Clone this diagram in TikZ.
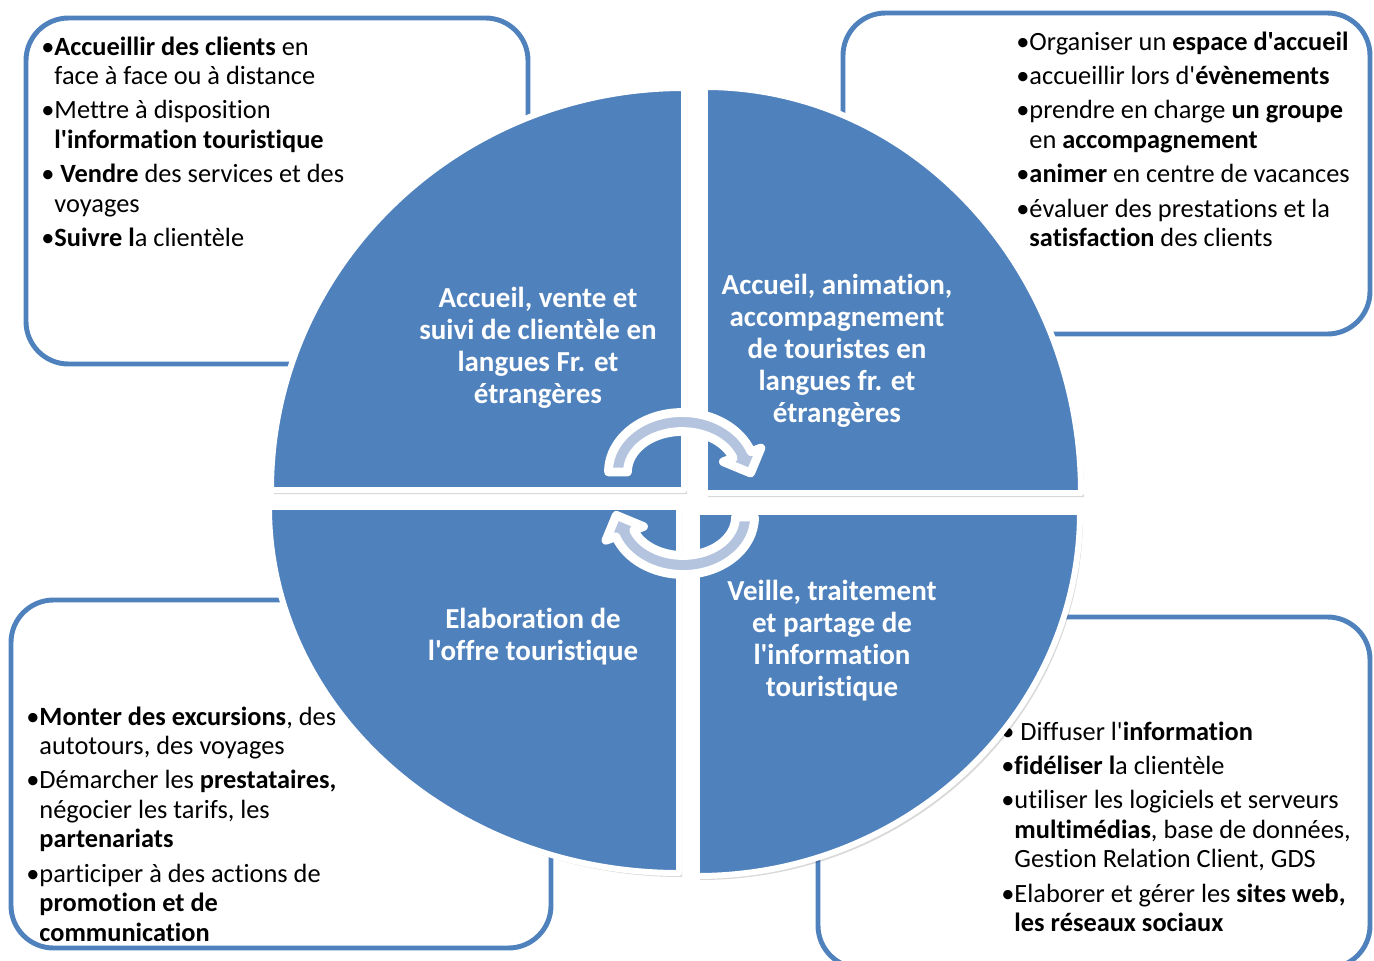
\documentclass[tikz,border=0pt]{standalone}
\usepackage{fontspec}
\setmainfont{Carlito}[Ligatures={TeXOff,NoCommon}]
\usetikzlibrary{positioning,arrows.meta,calc}
\definecolor{QuadBlue}{HTML}{4F81BD}
\definecolor{CycleBlue}{HTML}{B4C4DF}

\begin{document}
\begin{tikzpicture}[x=0.02cm,y=-0.02cm,
      box/.style={draw=QuadBlue,line width=2.8pt,fill=white,rounded corners=0.85cm},
      quad/.style={fill=QuadBlue,draw=white,line width=3.4pt,line join=round},
      quadshade/.style={fill=black,opacity=0.15},
      lbl/.style={text=white,align=center,font=\fontsize{16.5}{18.2}\selectfont\bfseries},
      txt/.style={anchor=base west,inner sep=0pt,font=\fontsize{15}{16.8}\selectfont},
      cyc/.style={fill=CycleBlue,draw=white,line width=5pt,line join=round}
    ]
    \useasboundingbox (0,0) rectangle (1374,961);
    % boxes
    \draw[box] (26,18) rectangle (528,364);
    \draw[box] (843,13) rectangle (1370,334);
    \draw[box] (11,600) rectangle (551,948);
    \draw[box] (818,617) rectangle (1370,968);
    \node[txt] (ta) at (41,55) {\begin{tabular}[t]{@{}l@{}l@{}}
      • & \textbf{Accueillir des clients} en\\
        & face à face ou à distance\\[2.8pt]
      • & Mettre à disposition\\
        & \textbf{l'information touristique}\\[2.8pt]
      • & \ \textbf{Vendre} des services et des\\
        & voyages\\[2.8pt]
      • & \textbf{Suivre l}a clientèle
    \end{tabular}};
    \node[txt] (tb) at (1016,50) {\begin{tabular}[t]{@{}l@{}l@{}}
      • & Organiser un \textbf{espace d'accueil}\\[2.8pt]
      • & accueillir lors d'\textbf{évènements}\\[2.8pt]
      • & prendre en charge \textbf{un groupe}\\
        & en \textbf{accompagnement}\\[2.8pt]
      • & \textbf{animer} en centre de vacances\\[2.8pt]
      • & évaluer des prestations et la\\
        & \textbf{satisfaction} des clients
    \end{tabular}};
    \node[txt] (tc) at (26,725) {\begin{tabular}[t]{@{}l@{}l@{}}
      • & \textbf{Monter des excursions}, des\\
        & autotours, des voyages\\[2.8pt]
      • & Démarcher les \textbf{prestataires,}\\
        & négocier les tarifs, les\\
        & \textbf{partenariats}\\[2.8pt]
      • & participer à des actions de\\
        & \textbf{promotion et de}\\
        & \textbf{communication}
    \end{tabular}};
    \node[txt] (td) at (1001,740) {\begin{tabular}[t]{@{}l@{}l@{}}
      • & \ Diffuser l'\textbf{information}\\[2.8pt]
      • & \textbf{fidéliser l}a clientèle\\[2.8pt]
      • & utiliser les logiciels et serveurs\\
        & \textbf{multimédias}, base de données,\\
        & Gestion Relation Client, GDS\\[2.8pt]
      • & Elaborer et gérer les \textbf{sites web,}\\
        & \textbf{les réseaux sociaux}
    \end{tabular}};
    % quadrants
    \foreach \cx/\cy/\rx/\ry/\a in {684/490/413/402/180, 705/493/376/406/270,
                                    697/512/383/364/0, 679/507/410/366/90}{
      \fill[quadshade] (\cx+3,\cy+4) -- ++(\a:{\rx} and {\ry})
        arc[start angle=\a, delta angle=90, x radius=\rx, y radius=\ry] -- cycle;
      \draw[quad] (\cx,\cy) -- ++(\a:{\rx} and {\ry})
        arc[start angle=\a, delta angle=90, x radius=\rx, y radius=\ry] -- cycle;
    }
    \node[lbl] (qa) at (538,348) {Accueil, vente et\\suivi de clientèle en\\langues Fr. et\\étrangères};
    \node[lbl] (qb) at (837,351) {Accueil, animation,\\accompagnement\\de touristes en\\langues fr. et\\étrangères};
    \node[lbl] (qc) at (533,637) {Elaboration de\\l'offre touristique};
    \node[lbl] (qd) at (832,641) {Veille, traitement\\et partage de\\l'information\\touristique};
    % arrows
    \coordinate (o1) at (682,472);
    \coordinate (o2) at (683,517);
    \draw[cyc] ($(o1)+(180:73.5 and 59.5)$)
      arc[start angle=180, end angle=340, x radius=73.5, y radius=59.5]
      -- ($(o1)+(340:84 and 70)$) -- ($(o1)+(340:64 and 50)+(65:20)$)
      -- ($(o1)+(340:44 and 30)$) -- ($(o1)+(340:54.5 and 40.5)$)
      arc[start angle=340, end angle=180, x radius=54.5, y radius=40.5] -- cycle;
    \draw[cyc] ($(o2)+(0:71.5 and 57.5)$)
      arc[start angle=0, end angle=160, x radius=71.5, y radius=57.5]
      -- ($(o2)+(160:82 and 68)$) -- ($(o2)+(160:62 and 48)+(245:20)$)
      -- ($(o2)+(160:42 and 28)$) -- ($(o2)+(160:52.5 and 38.5)$)
      arc[start angle=160, end angle=0, x radius=52.5, y radius=38.5] -- cycle;
  \end{tikzpicture}
\end{document}
